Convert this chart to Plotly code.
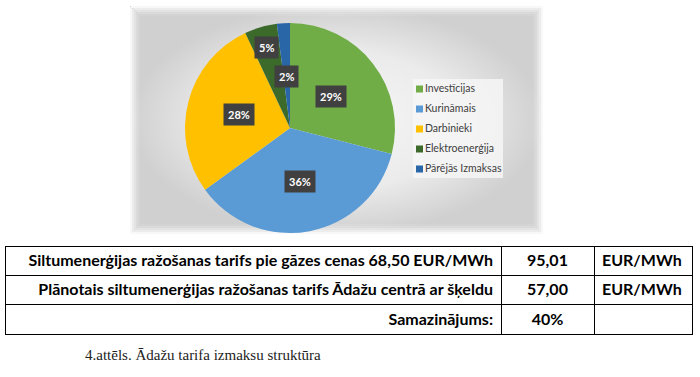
import math
import plotly.graph_objects as go

# ---------------- data ----------------
categories = ["Investīcijas", "Kurināmais", "Darbinieki", "Elektroenerģija", "Pārējās Izmaksas"]
shares = [29, 36, 28, 5, 2]
slice_colors = ["#70AD47", "#5B9BD5", "#FFC000", "#3B6A2B", "#2966A8"]

table_labels = [
    "Siltumenerģijas ražošanas tarifs pie gāzes cenas 68,50 EUR/MWh",
    "Plānotais siltumenerģijas ražošanas tarifs Ādažu centrā ar šķeldu",
    "Samazinājums:",
]
table_values = ["95,01", "57,00", "40%"]
table_units = ["EUR/MWh", "EUR/MWh", ""]

caption = "4.attēls. Ādažu tarifa izmaksu struktūra"

# ---------------- layout constants (pixels) ----------------
W, H = 700, 377
cx, cy, R = 290, 128, 105
label_radius = [0.49, 0.52, 0.50, 0.80, 0.49]

fig = go.Figure()

# gray chart area with radial gradient
px0, px1, py0, py1 = 130, 543, 6, 234
fig.add_trace(go.Scatter(
    x=[px0, px1, px1, px0, px0], y=[py0, py0, py1, py1, py0],
    mode="lines", fill="toself", line=dict(width=0),
    fillgradient=dict(type="radial", colorscale=[[0, "#f7f7f7"], [0.6, "#ebebeb"], [1, "#d0d0d0"]]),
    hoverinfo="skip", showlegend=False,
))
# soft edges
for k, op in enumerate([0.85, 0.6, 0.4, 0.22, 0.1]):
    d = 1 + 2 * k
    fig.add_trace(go.Scatter(
        x=[px0 + d, px1 - d, px1 - d, px0 + d, px0 + d],
        y=[py0 + d, py0 + d, py1 - d, py1 - d, py0 + d],
        mode="lines", line=dict(width=2, color=f"rgba(255,255,255,{op})"),
        hoverinfo="skip", showlegend=False,
    ))

# legend box
lx0, lx1, ly0, ly1 = 413, 503, 79, 178
fig.add_trace(go.Scatter(
    x=[lx0, lx1, lx1, lx0, lx0], y=[ly0, ly0, ly1, ly1, ly0],
    mode="lines", fill="toself", line=dict(width=0),
    fillcolor="rgba(246,246,246,0.85)", hoverinfo="skip", showlegend=False,
))

# legend entries
leg_y = [89 + 20 * i for i in range(len(categories))]
fig.add_trace(go.Scatter(
    x=[419.5] * len(categories), y=leg_y, mode="markers+text",
    marker=dict(symbol="square", size=7, color=slice_colors),
    text=categories, textposition="middle right",
    textfont=dict(family="Lato", size=10.5, color="#404040"),
    hoverinfo="skip", showlegend=False, cliponaxis=False,
))

# pie
fig.add_trace(go.Pie(
    labels=categories, values=shares, sort=False, direction="clockwise", rotation=0,
    marker=dict(colors=slice_colors, line=dict(width=0)),
    textinfo="none", hoverinfo="label+percent", showlegend=False,
    domain=dict(x=[(cx - R) / W, (cx + R) / W], y=[1 - (cy + R) / H, 1 - (cy - R) / H]),
))

# data labels on dark boxes
total = sum(shares)
cum = 0
for v, rf in zip(shares, label_radius):
    mid = (cum + v / 2) / total * 2 * math.pi
    cum += v
    fig.add_annotation(
        x=cx + rf * R * math.sin(mid), y=cy - rf * R * math.cos(mid),
        xref="x", yref="y", text=f"<b>{round(v / total * 100)}%</b>", showarrow=False,
        font=dict(family="Lato", size=11, color="white"),
        bgcolor="#404040", borderpad=4,
    )

# table
tx0, tx1, ty0 = 5, 692, 246
tfont = dict(family="Lato", size=16, color="black", weight="bold")
fig.add_trace(go.Table(
    domain=dict(x=[tx0 / W, tx1 / W], y=[1 - 336 / H, 1 - ty0 / H]),
    columnwidth=[496, 93, 98],
    header=dict(
        values=[table_labels[0], table_values[0], table_units[0]],
        align=["right", "center", "left"], height=29,
        font=tfont, fill_color="white", line=dict(color="black", width=1),
    ),
    cells=dict(
        values=[table_labels[1:], table_values[1:], table_units[1:]],
        align=["right", "center", "left"], height=29.5,
        font=tfont, fill_color="white", line=dict(color="black", width=1),
    ),
))

fig.add_annotation(
    x=83, y=355, xref="x", yref="y", xanchor="left", yanchor="middle",
    text=caption, showarrow=False,
    font=dict(family="Liberation Serif", size=15, color="#222222"),
)

fig.update_layout(
    width=W, height=H, autosize=False,
    margin=dict(l=0, r=0, t=0, b=0),
    paper_bgcolor="white", plot_bgcolor="rgba(0,0,0,0)",
    xaxis=dict(range=[0, W], visible=False, fixedrange=True),
    yaxis=dict(range=[H, 0], visible=False, fixedrange=True),
    showlegend=False,
)

fig.write_html("out.html", config={"displayModeBar": False},
               post_script="document.body.style.margin='0px';")
